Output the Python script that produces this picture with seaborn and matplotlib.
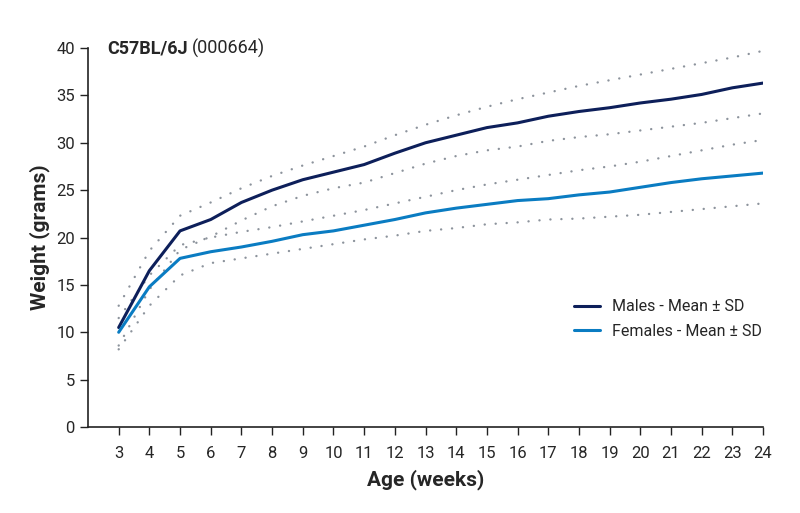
import pandas as pd
import seaborn as sns
from matplotlib import pyplot as plt

weeks = list(range(3, 25))

male_mean = [10.5, 16.5, 20.7, 21.9, 23.7, 25.0, 26.1, 26.9, 27.7, 28.9, 30.0,
             30.8, 31.6, 32.1, 32.8, 33.3, 33.7, 34.2, 34.6, 35.1, 35.8, 36.3]
male_upper = [12.8, 18.6, 22.3, 23.7, 25.2, 26.5, 27.6, 28.6, 29.6, 30.8, 31.9,
              32.9, 33.8, 34.6, 35.3, 36.0, 36.6, 37.2, 37.8, 38.4, 39.0, 39.7]
male_lower = [8.6, 14.5, 18.7, 20.1, 21.8, 23.3, 24.4, 25.2, 25.8, 26.8, 27.8,
              28.6, 29.2, 29.6, 30.2, 30.6, 30.9, 31.3, 31.7, 32.1, 32.6, 33.1]

female_mean = [10.0, 14.8, 17.8, 18.5, 19.0, 19.6, 20.3, 20.7, 21.3, 21.9, 22.6,
               23.1, 23.5, 23.9, 24.1, 24.5, 24.8, 25.3, 25.8, 26.2, 26.5, 26.8]
female_upper = [11.5, 16.0, 19.2, 20.0, 20.6, 21.1, 21.7, 22.3, 22.9, 23.6, 24.3,
                25.0, 25.6, 26.1, 26.6, 27.1, 27.5, 28.0, 28.6, 29.2, 29.8, 30.3]
female_lower = [8.2, 12.8, 16.0, 17.3, 17.8, 18.3, 18.8, 19.3, 19.8, 20.2, 20.7,
                21.0, 21.4, 21.6, 21.9, 22.0, 22.2, 22.4, 22.7, 23.0, 23.3, 23.6]

male_color = "#0d1f5a"
female_color = "#0a7cc2"
sd_color = "#8c939c"

sns.set_style("ticks")
plt.rcParams["font.family"] = ["Roboto", "DejaVu Sans"]

fig = plt.figure(figsize=(8, 5.13), dpi=100)
ax = fig.add_axes([0.11, 0.1676, 0.8438, 0.7388])

sd_lines = [male_upper, male_lower, female_upper, female_lower]
for vals in sd_lines:
    sns.lineplot(x=weeks, y=vals, ax=ax, color=sd_color, linewidth=1.7,
                 linestyle=(0, (0.05, 4.6)), dash_capstyle="round")

sns.lineplot(x=weeks, y=male_mean, ax=ax, color=male_color, linewidth=2.2,
             label="Males - Mean \u00b1 SD")
sns.lineplot(x=weeks, y=female_mean, ax=ax, color=female_color, linewidth=2.2,
             label="Females - Mean \u00b1 SD")

ax.set_xlim(2, 24)
ax.set_ylim(0, 40)
ax.set_xticks(weeks)
ax.set_yticks(range(0, 41, 5))
ax.tick_params(axis="both", labelsize=12, length=6, width=1, color="#222222")
ax.tick_params(axis="x", pad=8)
for s in ["top", "right"]:
    ax.spines[s].set_visible(False)
for s in ["left", "bottom"]:
    ax.spines[s].set_linewidth(1.2)
    ax.spines[s].set_color("#222222")

ax.set_xlabel("Age (weeks)", fontsize=15, fontweight="bold", labelpad=6)
ax.set_ylabel("Weight (grams)", fontsize=15, fontweight="bold", labelpad=4)

title = ax.text(0.028, 1.0, "C57BL/6J", transform=ax.transAxes, fontsize=13,
                fontweight="bold", va="center", ha="left")
ax.annotate("(000664)", xy=(1, 0.5), xycoords=title, xytext=(3, 0),
            textcoords="offset points", fontsize=13, va="center", ha="left")

ax.legend(loc="center right", bbox_to_anchor=(1.02, 0.285), frameon=False,
          fontsize=11.5, handlelength=1.6, labelspacing=0.6)

fig.savefig("out.png", dpi=100)
